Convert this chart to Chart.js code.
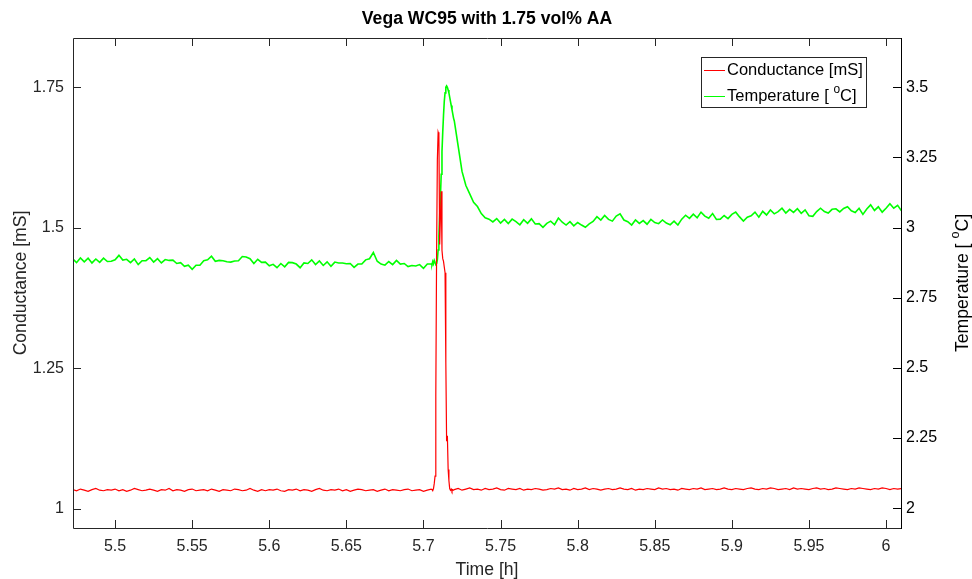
<!DOCTYPE html>
<html>
<head>
<meta charset="utf-8">
<script src="https://cdn.jsdelivr.net/npm/chart.js@4.4.1/dist/chart.umd.min.js"></script>
<style>
  html, body { margin: 0; padding: 0; background: #ffffff; }
  #wrap { width: 972px; height: 579px; }
</style>
</head>
<body>
<div id="wrap"><canvas id="signalChart" width="972" height="579"></canvas></div>
<script>
const chartTitle = "Vega WC95 with 1.75 vol% AA";

// time axis [h]: coarse before the event, fine around the spike, coarse after
const timeH = [
  5.4725,5.4750,5.4775,5.4800,5.4825,5.4850,5.4875,5.4900,5.4925,5.4950,
  5.4975,5.5000,5.5025,5.5050,5.5075,5.5100,5.5125,5.5150,5.5175,5.5200,
  5.5225,5.5250,5.5275,5.5300,5.5325,5.5350,5.5375,5.5400,5.5425,5.5450,
  5.5475,5.5500,5.5525,5.5550,5.5575,5.5600,5.5625,5.5650,5.5675,5.5700,
  5.5725,5.5750,5.5775,5.5800,5.5825,5.5850,5.5875,5.5900,5.5925,5.5950,
  5.5975,5.6000,5.6025,5.6050,5.6075,5.6100,5.6125,5.6150,5.6175,5.6200,
  5.6225,5.6250,5.6275,5.6300,5.6325,5.6350,5.6375,5.6400,5.6425,5.6450,
  5.6475,5.6500,5.6525,5.6550,5.6575,5.6600,5.6625,5.6650,5.6675,5.6700,
  5.6725,5.6750,5.6775,5.6800,5.6825,5.6850,5.6875,5.6900,5.6925,5.6950,
  5.6975,5.7000,5.7025,5.7050,
  5.7055,5.7060,5.7065,5.7070,5.7075,5.7080,5.7085,5.7090,5.7095,5.7100,
  5.7105,5.7110,5.7115,5.7120,5.7125,5.7130,5.7135,5.7140,5.7145,5.7150,
  5.7155,5.7160,5.7165,5.7170,5.7175,5.7180,5.7185,5.7190,5.7195,
  5.7200,5.7225,5.7250,5.7275,5.7300,5.7325,5.7350,5.7375,5.7400,5.7425,
  5.7450,5.7475,5.7500,5.7525,5.7550,5.7575,5.7600,5.7625,5.7650,5.7675,
  5.7700,5.7725,5.7750,5.7775,5.7800,5.7825,5.7850,5.7875,5.7900,5.7925,
  5.7950,5.7975,5.8000,5.8025,5.8050,5.8075,5.8100,5.8125,5.8150,5.8175,
  5.8200,5.8225,5.8250,5.8275,5.8300,5.8325,5.8350,5.8375,5.8400,5.8425,
  5.8450,5.8475,5.8500,5.8525,5.8550,5.8575,5.8600,5.8625,5.8650,5.8675,
  5.8700,5.8725,5.8750,5.8775,5.8800,5.8825,5.8850,5.8875,5.8900,5.8925,
  5.8950,5.8975,5.9000,5.9025,5.9050,5.9075,5.9100,5.9125,5.9150,5.9175,
  5.9200,5.9225,5.9250,5.9275,5.9300,5.9325,5.9350,5.9375,5.9400,5.9425,
  5.9450,5.9475,5.9500,5.9525,5.9550,5.9575,5.9600,5.9625,5.9650,5.9675,
  5.9700,5.9725,5.9750,5.9775,5.9800,5.9825,5.9850,5.9875,5.9900,5.9925,
  5.9950,5.9975,6.0000,6.0025,6.0050,6.0075,6.0100
];

// conductance [mS]
const conductance = [
  1.034,1.032,1.035,1.033,1.031,1.034,1.036,1.033,1.032,1.034,
  1.033,1.035,1.032,1.034,1.031,1.033,1.036,1.034,1.032,1.033,
  1.035,1.033,1.031,1.034,1.033,1.036,1.032,1.034,1.033,1.031,
  1.034,1.035,1.032,1.033,1.034,1.032,1.035,1.033,1.031,1.034,
  1.033,1.032,1.035,1.034,1.032,1.033,1.036,1.033,1.031,1.034,
  1.032,1.034,1.033,1.035,1.032,1.031,1.034,1.033,1.035,1.032,
  1.034,1.033,1.031,1.034,1.036,1.033,1.032,1.034,1.033,1.035,
  1.032,1.034,1.031,1.033,1.035,1.034,1.032,1.033,1.034,1.031,
  1.033,1.035,1.032,1.034,1.033,1.032,1.034,1.035,1.032,1.033,
  1.034,1.031,1.033,1.035,
  1.034,1.032,1.036,1.045,1.058,1.200,1.450,1.620,1.670,1.665,
  1.470,1.520,1.565,1.460,1.445,1.440,1.430,1.420,1.260,1.120,
  1.130,1.070,1.050,1.036,1.033,1.035,1.031,1.034,1.033,
  1.034,1.036,1.033,1.035,1.037,1.034,1.035,1.033,1.036,1.034,
  1.035,1.037,1.034,1.033,1.036,1.035,1.034,1.036,1.033,1.035,
  1.034,1.036,1.035,1.033,1.034,1.036,1.035,1.037,1.034,1.035,
  1.033,1.036,1.034,1.035,1.037,1.034,1.036,1.035,1.033,1.035,
  1.036,1.034,1.035,1.037,1.035,1.034,1.036,1.033,1.035,1.034,
  1.036,1.035,1.034,1.037,1.035,1.036,1.034,1.035,1.033,1.036,
  1.035,1.034,1.036,1.035,1.037,1.034,1.035,1.036,1.034,1.035,
  1.037,1.035,1.034,1.036,1.035,1.034,1.036,1.037,1.035,1.034,
  1.036,1.035,1.037,1.036,1.034,1.035,1.036,1.034,1.037,1.035,
  1.036,1.035,1.034,1.036,1.037,1.035,1.036,1.034,1.035,1.037,
  1.036,1.035,1.034,1.036,1.035,1.037,1.036,1.035,1.034,1.036,
  1.035,1.037,1.036,1.034,1.036,1.035,1.036
];

// temperature [oC]
const temperature = [
  2.889,2.875,2.892,2.878,2.891,2.874,2.888,2.876,2.891,2.879,
  2.880,2.885,2.901,2.884,2.887,2.875,2.888,2.868,2.882,2.882,
  2.893,2.877,2.889,2.874,2.886,2.883,2.884,2.872,2.875,2.862,
  2.866,2.851,2.866,2.866,2.882,2.885,2.898,2.880,2.883,2.882,
  2.878,2.877,2.881,2.882,2.897,2.895,2.889,2.872,2.887,2.876,
  2.877,2.864,2.869,2.857,2.872,2.860,2.876,2.875,2.870,2.857,
  2.874,2.872,2.885,2.868,2.881,2.865,2.878,2.862,2.877,2.874,
  2.874,2.871,2.872,2.858,2.870,2.870,2.885,2.889,2.911,2.880,
  2.870,2.866,2.879,2.868,2.883,2.870,2.872,2.861,2.865,2.863,
  2.868,2.855,2.870,2.870,
  2.868,2.879,2.871,2.883,2.876,2.870,2.872,2.885,2.920,2.970,
  3.040,3.110,3.190,3.270,3.340,3.400,3.450,3.480,3.500,3.505,
  3.500,3.490,3.480,3.465,3.450,3.435,3.420,3.405,3.390,
  3.380,3.290,3.200,3.150,3.120,3.090,3.075,3.050,3.035,3.030,
  3.020,3.032,3.016,3.029,3.014,3.030,3.021,3.010,3.028,3.015,
  3.031,3.013,3.014,3.001,3.015,3.023,3.010,3.034,3.019,3.009,
  3.021,3.006,3.018,3.009,3.001,3.013,3.022,3.039,3.027,3.043,
  3.029,3.023,3.041,3.049,3.027,3.021,3.009,3.027,3.015,3.025,
  3.012,3.029,3.018,3.014,3.027,3.016,3.010,3.023,3.009,3.030,
  3.044,3.033,3.048,3.035,3.055,3.041,3.033,3.050,3.029,3.030,
  3.043,3.032,3.047,3.055,3.038,3.023,3.037,3.042,3.055,3.037,
  3.058,3.045,3.063,3.049,3.057,3.069,3.052,3.065,3.054,3.067,
  3.051,3.063,3.042,3.040,3.057,3.069,3.057,3.052,3.065,3.067,
  3.056,3.068,3.074,3.060,3.054,3.069,3.047,3.066,3.081,3.061,
  3.074,3.055,3.069,3.085,3.069,3.079,3.060
];

const timeTicks = [5.5, 5.55, 5.6, 5.65, 5.7, 5.75, 5.8, 5.85, 5.9, 5.95, 6];
const condTicks = [1, 1.25, 1.5, 1.75];
const tempTicks = [2, 2.25, 2.5, 2.75, 3, 3.25, 3.5];

const FONT = "'Liberation Sans', Arial, Helvetica, sans-serif";
const AXIS_COLOR = "#262626";

function tickLabel(value) {
  return String(parseFloat(value.toFixed(2)));
}

function toPoints(values) {
  return timeH.map((t, i) => ({ x: t, y: values[i] }));
}

// draws text like "Temperature [ °C]" with a raised small "o"
function drawDegreeText(ctx, x, y, size, align) {
  const parts = [
    { text: "Temperature [ ", size: size, rise: 0 },
    { text: "o", size: size * 0.72, rise: size * 0.42 },
    { text: "C]", size: size, rise: 0 }
  ];
  let total = 0;
  parts.forEach((p) => {
    ctx.font = p.size + "px " + FONT;
    p.w = ctx.measureText(p.text).width;
    total += p.w;
  });
  let cx = align === "center" ? x - total / 2 : x;
  ctx.textAlign = "left";
  parts.forEach((p) => {
    ctx.font = p.size + "px " + FONT;
    ctx.fillText(p.text, cx, y - p.rise);
    cx += p.w;
  });
}

const axesPlugin = {
  id: "matlabAxes",
  afterDatasetsDraw(chart) {
    const ctx = chart.ctx;
    const area = chart.chartArea;
    const xs = chart.scales.x;
    const yl = chart.scales.y;
    const yr = chart.scales.y1;
    const tick = 8;

    ctx.save();
    ctx.lineWidth = 1;
    ctx.strokeStyle = AXIS_COLOR;

    // box
    ctx.beginPath();
    ctx.moveTo(area.left + 0.5, area.bottom + 0.5);
    ctx.lineTo(area.left + 0.5, area.top + 0.5);
    ctx.lineTo(area.right + 0.5, area.top + 0.5);
    ctx.moveTo(area.left + 0.5, area.bottom + 0.5);
    ctx.lineTo(area.right + 0.5, area.bottom + 0.5);
    ctx.stroke();

    // inward ticks, bottom and top
    ctx.beginPath();
    timeTicks.forEach((v) => {
      const px = Math.round(xs.getPixelForValue(v)) + 0.5;
      ctx.moveTo(px, area.bottom);
      ctx.lineTo(px, area.bottom - tick);
      ctx.moveTo(px, area.top);
      ctx.lineTo(px, area.top + tick);
    });
    condTicks.forEach((v) => {
      const py = Math.round(yl.getPixelForValue(v)) + 0.5;
      ctx.moveTo(area.left, py);
      ctx.lineTo(area.left + tick, py);
    });
    ctx.stroke();

    ctx.strokeStyle = "#000000";
    ctx.beginPath();
    ctx.moveTo(area.right + 0.5, area.top);
    ctx.lineTo(area.right + 0.5, area.bottom + 1);
    tempTicks.forEach((v) => {
      const py = Math.round(yr.getPixelForValue(v)) + 0.5;
      ctx.moveTo(area.right, py);
      ctx.lineTo(area.right - tick, py);
    });
    ctx.stroke();

    // legend box
    const lx = 701.5, ly = 57.5, lw = 165, lh = 50;
    ctx.fillStyle = "#ffffff";
    ctx.fillRect(lx, ly, lw, lh);
    ctx.strokeStyle = AXIS_COLOR;
    ctx.strokeRect(lx, ly, lw, lh);
    const rows = [
      { ds: chart.data.datasets[0], y: 70.5 },
      { ds: chart.data.datasets[1], y: 96.5 }
    ];
    rows.forEach((r, i) => {
      ctx.strokeStyle = r.ds.borderColor;
      ctx.lineWidth = 1;
      ctx.beginPath();
      ctx.moveTo(704, r.y);
      ctx.lineTo(725, r.y);
      ctx.stroke();
      ctx.fillStyle = "#000000";
      ctx.textBaseline = "middle";
      if (i === 0) {
        ctx.font = "16.5px " + FONT;
        ctx.textAlign = "left";
        ctx.fillText(r.ds.label, 727, r.y);
      } else {
        drawDegreeText(ctx, 727, r.y, 16.5, "left");
      }
    });

    // title and axis labels
    const midX = (area.left + area.right) / 2;
    const midY = (area.top + area.bottom) / 2;
    ctx.fillStyle = "#000000";
    ctx.textAlign = "center";
    ctx.textBaseline = "middle";
    ctx.font = "bold 17.6px " + FONT;
    ctx.fillText(chartTitle, midX, 19);

    ctx.fillStyle = AXIS_COLOR;
    ctx.font = "17.6px " + FONT;
    ctx.fillText("Time [h]", midX, 570);

    ctx.save();
    ctx.translate(21, midY);
    ctx.rotate(-Math.PI / 2);
    ctx.fillText("Conductance [mS]", 0, 0);
    ctx.restore();

    ctx.save();
    ctx.fillStyle = "#000000";
    ctx.translate(963, midY);
    ctx.rotate(-Math.PI / 2);
    ctx.textBaseline = "middle";
    drawDegreeText(ctx, 0, 0, 17.6, "center");
    ctx.restore();

    ctx.restore();
  }
};

let chart = null;

function drawChart() {
  const ctx = document.getElementById("signalChart").getContext("2d");

  chart = new Chart(ctx, {
    type: "line",
    data: {
      datasets: [
        {
          label: "Conductance [mS]",
          data: toPoints(conductance),
          borderColor: "#ff0000",
          borderWidth: 1.2,
          pointRadius: 0,
          tension: 0,
          fill: false,
          yAxisID: "y"
        },
        {
          label: "Temperature [ °C]",
          data: toPoints(temperature),
          borderColor: "#00ff00",
          borderWidth: 1.6,
          pointRadius: 0,
          tension: 0,
          fill: false,
          yAxisID: "y1"
        }
      ]
    },
    options: {
      responsive: false,
      animation: false,
      devicePixelRatio: 1,
      layout: {
        padding: { top: 38, left: 0, right: 0, bottom: 0 }
      },
      plugins: {
        legend: { display: false },
        title: { display: false },
        tooltip: { enabled: false }
      },
      scales: {
        x: {
          type: "linear",
          min: 5.4727,
          max: 6.0097,
          grid: { display: false, drawTicks: false },
          border: { display: false },
          afterBuildTicks: (s) => {
            s.ticks = timeTicks.map((v) => ({ value: v }));
          },
          afterFit: (s) => {
            s.height = 51;
          },
          ticks: {
            autoSkip: false,
            maxRotation: 0,
            padding: 9,
            color: AXIS_COLOR,
            font: { family: FONT, size: 16 },
            callback: (v) => tickLabel(v)
          }
        },
        y: {
          type: "linear",
          position: "left",
          min: 0.9657,
          max: 1.8376,
          grid: { display: false, drawTicks: false },
          border: { display: false },
          afterBuildTicks: (s) => {
            s.ticks = condTicks.map((v) => ({ value: v }));
          },
          afterFit: (s) => {
            s.width = 73;
          },
          ticks: {
            padding: 9,
            color: AXIS_COLOR,
            font: { family: FONT, size: 16 },
            callback: (v) => tickLabel(v)
          }
        },
        y1: {
          type: "linear",
          position: "right",
          min: 1.9295,
          max: 3.6755,
          grid: { display: false, drawTicks: false },
          border: { display: false },
          afterBuildTicks: (s) => {
            s.ticks = tempTicks.map((v) => ({ value: v }));
          },
          afterFit: (s) => {
            s.width = 71;
          },
          ticks: {
            padding: 5,
            color: "#000000",
            font: { family: FONT, size: 16 },
            callback: (v) => tickLabel(v)
          }
        }
      }
    },
    plugins: [axesPlugin]
  });
}

drawChart();
</script>
</body>
</html>
